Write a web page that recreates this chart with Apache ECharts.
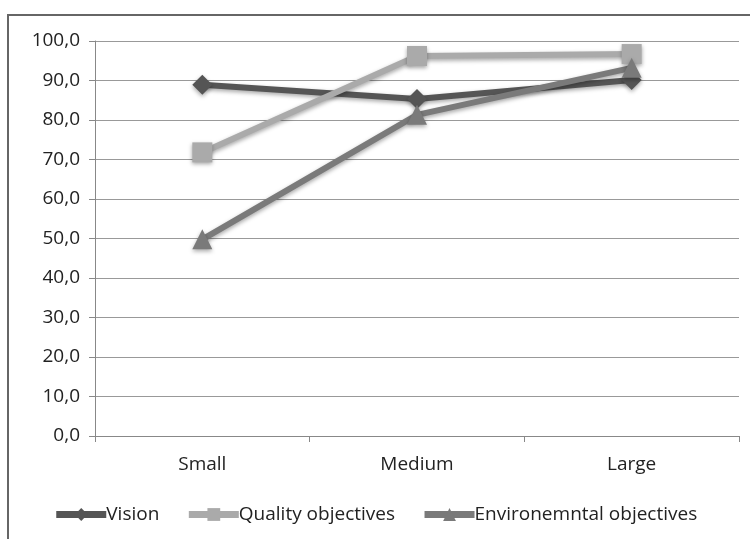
<!DOCTYPE html>
<html><head><meta charset="utf-8">
<script src="https://cdn.jsdelivr.net/npm/echarts@6/dist/echarts.min.js"></script>
<style>html,body{margin:0;padding:0;background:#fff}#c{width:750px;height:539px}</style>
</head><body><div id="c"></div>
<script>
var categories = ["Small", "Medium", "Large"];
var vision = [88.9, 85.3, 90.1];
var quality = [71.8, 96.2, 96.7];
var environmental = [49.8, 81.3, 93.2];
var seriesNames = ["Vision", "Quality objectives", "Environemntal objectives"];
var yTicks = {min: 0, max: 100, interval: 10};

var FONT = '"Open Sans", "Noto Sans", sans-serif';
var FS = 19;
var chart = echarts.init(document.getElementById('c'), null, {renderer: 'canvas'});
function mk(name, data, color, symbol, size) {
  return {
    name: name, type: 'line', data: data, symbol: symbol, symbolSize: size,
    lineStyle: {color: color, width: 6, shadowColor: 'rgba(0,0,0,0.35)', shadowBlur: 4, shadowOffsetY: 2},
    itemStyle: {color: color, shadowColor: 'rgba(0,0,0,0.35)', shadowBlur: 4, shadowOffsetY: 2},
    emphasis: {disabled: true}, animation: false
  };
}
chart.setOption({
  animation: false,
  textStyle: {fontFamily: FONT},
  graphic: [{type: 'rect', shape: {x: 8, y: 15, width: 760, height: 560},
    style: {fill: 'none', stroke: '#666', lineWidth: 2}}],
  grid: {left: 95, right: 11, top: 41, bottom: 103},
  legend: {
    bottom: 10, left: 'center', itemGap: 26, itemWidth: 50, itemHeight: 16,
    lineStyle: {width: 7},
    textStyle: {fontSize: FS, color: '#222', fontFamily: FONT, padding: [0, 0, 0, -5]},
    data: seriesNames
  },
  xAxis: {
    type: 'category', data: categories, boundaryGap: true,
    axisLine: {lineStyle: {color: '#888', width: 1}},
    axisTick: {show: true, length: 6, lineStyle: {color: '#888'}},
    axisLabel: {fontSize: FS, color: '#222', margin: 19, fontFamily: FONT}
  },
  yAxis: {
    type: 'value', min: yTicks.min, max: yTicks.max, interval: yTicks.interval,
    axisLine: {show: true, lineStyle: {color: '#888'}},
    axisTick: {show: true, length: 6, lineStyle: {color: '#888'}},
    splitLine: {lineStyle: {color: '#999', width: 1}},
    axisLabel: {fontSize: FS, color: '#222', margin: 15, fontFamily: FONT,
      formatter: function (v) { return v.toFixed(1).replace('.', ','); }}
  },
  series: [
    mk(seriesNames[0], vision, '#555555', 'diamond', 20),
    mk(seriesNames[1], quality, '#aaaaaa', 'rect', 20),
    mk(seriesNames[2], environmental, '#7a7a7a', 'triangle', 20)
  ]
});
</script></body></html>
